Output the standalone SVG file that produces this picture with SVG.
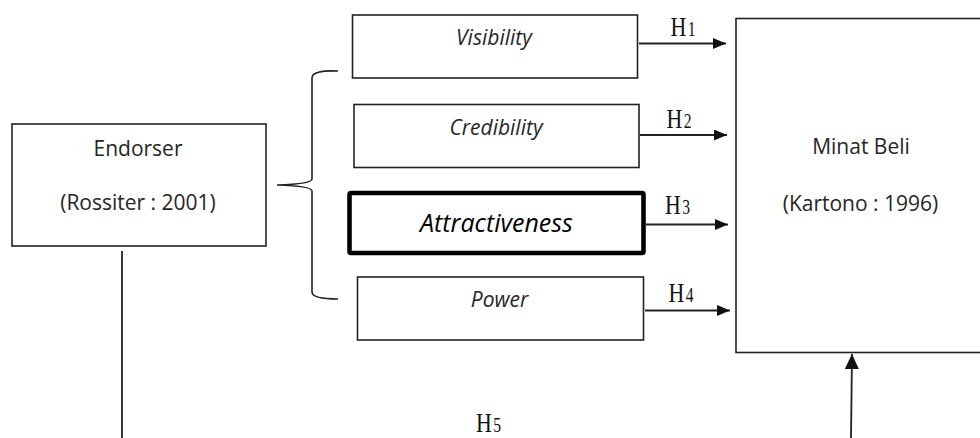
<svg xmlns="http://www.w3.org/2000/svg" width="980" height="438" viewBox="0 0 980 438">
  <style>
    .box { fill: #fff; stroke: #222; stroke-width: 1.6; }
    .thick { fill: #fff; stroke: #000; stroke-width: 4.6; }
    .lbl { font-family: "Open Sans", "Liberation Sans", sans-serif; font-size: 21px; fill: #262626; text-anchor: middle; }
    .it { font-style: italic; }
    .h { font-family: "Liberation Serif", "DejaVu Serif", serif; font-size: 28px; fill: #111; }
    .sub { font-size: 20px; }
    .conn { fill: none; stroke: #222; stroke-width: 1.8; }
    .brace { fill: none; stroke: #222; stroke-width: 1.6; }
  </style>
  <defs>
    <marker id="arr" markerUnits="userSpaceOnUse" markerWidth="14" markerHeight="12" refX="13" refY="5.5" orient="auto">
      <path d="M0,0 L13,5.5 L0,11 z" fill="#111"/>
    </marker>
    <marker id="arrUp" markerUnits="userSpaceOnUse" markerWidth="16" markerHeight="15" refX="15" refY="7" orient="auto">
      <path d="M0,0 L15,7 L0,14 z" fill="#111"/>
    </marker>
  </defs>
  <rect width="980" height="438" fill="#fff"/>

  <g id="connectors">
    <path class="brace" d="M338,71 Q312,70 312,78 L312,179 Q312,184 277,185 Q312,186 312,191 L312,292 Q312,299 338,299"/>
    <line class="conn" x1="639" y1="43.5" x2="726" y2="43.5" marker-end="url(#arr)"/>
    <line class="conn" x1="640" y1="135" x2="727" y2="135" marker-end="url(#arr)"/>
    <line class="conn" x1="646" y1="224.5" x2="728" y2="224.5" marker-end="url(#arr)"/>
    <line class="conn" x1="645" y1="310.5" x2="730" y2="310.5" marker-end="url(#arr)"/>
    <line class="conn" x1="122" y1="251" x2="122" y2="438"/>
    <line class="conn" x1="851" y1="438" x2="852" y2="354" marker-end="url(#arrUp)"/>
    <text class="h" transform="translate(670.5,35.5) scale(0.78,1)">H<tspan class="sub" dx="2">1</tspan></text>
    <text class="h" transform="translate(666.5,128) scale(0.78,1)">H<tspan class="sub" dx="2">2</tspan></text>
    <text class="h" transform="translate(665,214) scale(0.78,1)">H<tspan class="sub" dx="2">3</tspan></text>
    <text class="h" transform="translate(668.5,301.5) scale(0.78,1)">H<tspan class="sub" dx="2">4</tspan></text>
    <text class="h" transform="translate(476,431.5) scale(0.78,1)">H<tspan class="sub" dx="2">5</tspan></text>
  </g>

  <g id="endorser">
    <rect class="box" x="12" y="124" width="254" height="122"/>
    <text class="lbl" x="138" y="156" font-size="22">Endorser</text>
    <text class="lbl" x="138" y="210" font-size="22">(Rossiter : 2001)</text>
  </g>

  <g id="visibility">
    <rect class="box" x="352.5" y="15" width="285" height="63"/>
    <text class="lbl it" x="494" y="45">Visibility</text>
  </g>

  <g id="credibility">
    <rect class="box" x="354" y="104.5" width="285" height="63"/>
    <text class="lbl it" x="496" y="135">Credibility</text>
  </g>

  <g id="attractiveness">
    <rect class="thick" x="349.5" y="193" width="294" height="60" rx="1.5"/>
    <text class="lbl it" x="496.5" y="232" style="font-size:25px;fill:#000">Attractiveness</text>
  </g>

  <g id="power">
    <rect class="box" x="357.5" y="277" width="286" height="63"/>
    <text class="lbl it" x="499.5" y="307">Power</text>
  </g>

  <g id="minat-beli">
    <rect class="box" x="736" y="18.5" width="300" height="334"/>
    <text class="lbl" x="861" y="154" font-size="22">Minat Beli</text>
    <text class="lbl" x="860.5" y="210.5" font-size="22">(Kartono : 1996)</text>
  </g>
</svg>
